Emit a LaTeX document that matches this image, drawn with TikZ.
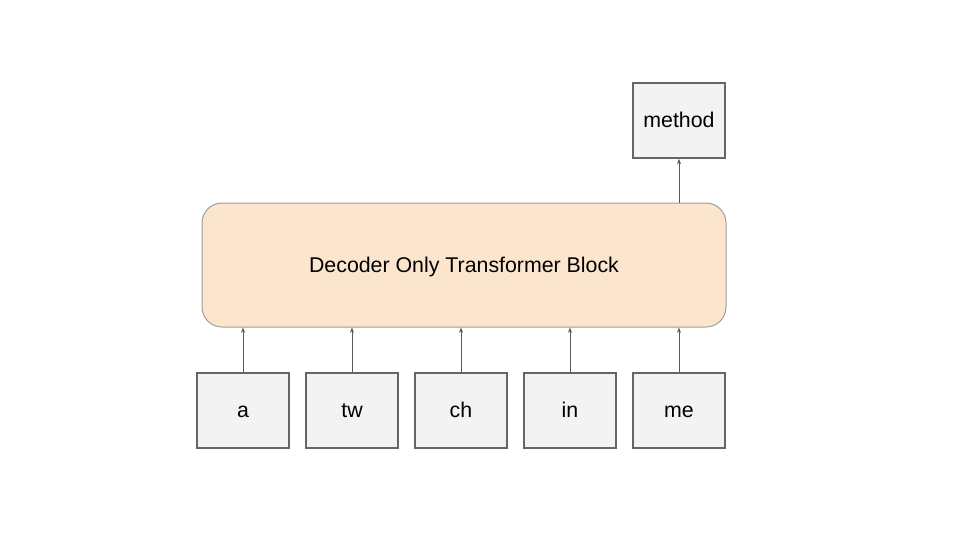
\documentclass[tikz,border=0pt]{standalone}
\usepackage{fontspec}
\setmainfont{Liberation Sans}
\usepackage{xcolor}
\usetikzlibrary{arrows.meta,positioning}
\definecolor{tokenfill}{HTML}{F3F3F3}
\definecolor{tokenborder}{HTML}{666666}
\definecolor{blockfill}{HTML}{FCE5CD}
\definecolor{blockborder}{HTML}{9E9E9E}
\definecolor{arrowgray}{HTML}{595959}
\tikzset{
  token/.style={
    draw=tokenborder, fill=tokenfill, line width=1.5pt,
    minimum width=69pt, minimum height=56pt, inner sep=0pt,
    text height=13pt, text depth=2pt,
    font=\fontsize{16}{19}\selectfont,
  },
  block/.style={
    draw=blockborder, fill=blockfill, rounded corners=15pt, line width=0.75pt,
    minimum width=393pt, minimum height=93pt,
    text height=13pt, text depth=2pt,
    font=\fontsize{16}{19}\selectfont,
  },
  arrow/.style={-{Stealth[length=4pt,width=3pt]}, line width=0.75pt, color=arrowgray},
}
\begin{document}
\begin{tikzpicture}[x=0.75pt,y=-0.75pt]
  \useasboundingbox (0,0) rectangle (960,540);

  \node[block] (decoder) at (464,265) {Decoder Only Transformer Block};

  % input tokens
  \node[token] (a) at (243,410.5) {a};
  \node[token, right=11.25pt of a] (tw) {tw};
  \node[token, right=11.25pt of tw] (ch) {ch};
  \node[token, right=11.25pt of ch] (in) {in};
  \node[token, right=11.25pt of in] (me) {me};

  % predicted token
  \node[token] (method) at (679,120.5) {method};

  \foreach \t in {a,tw,ch,in,me}
    \draw[arrow] (\t.north) -- (\t.north |- decoder.south);
  \draw[arrow] (method.south |- decoder.north) -- (method.south);

\end{tikzpicture}
\end{document}
